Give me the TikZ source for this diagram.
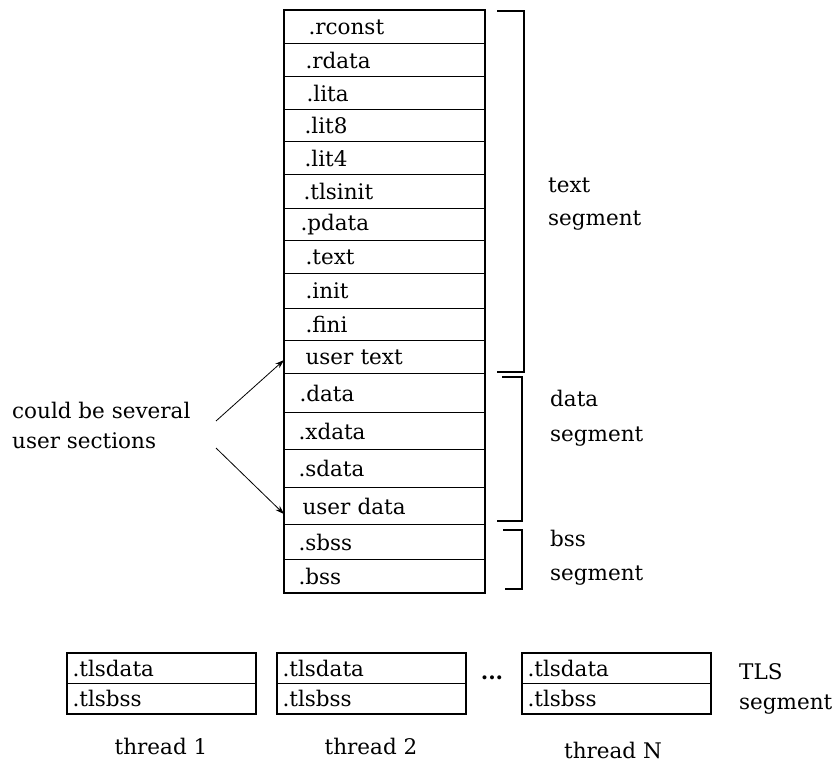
\documentclass[tikz,border=0pt]{standalone}
\usepackage{fontspec}
\setmainfont{DejaVu Serif}
\usetikzlibrary{arrows.meta}
\begin{document}
\begin{tikzpicture}[x=1pt,y=-1pt,
  every node/.style={font=\fontsize{21.5}{24}\selectfont},
  sect/.style={draw, line width=1.1pt, minimum width=200pt, minimum height=#1,
     inner sep=0pt, anchor=north west, text width=200pt, align=left},
  tls/.style={draw, line width=1.1pt, minimum width=188pt, minimum height=#1,
     inner sep=0pt, anchor=north west, text width=188pt, align=left},
  outer/.style={line width=2.6pt},
  brk/.style={line width=1.3pt},
  arr/.style={line width=0.8pt, -{Stealth[length=9pt,width=6pt]}},
  lbl/.style={anchor=west, align=left, inner sep=0pt}
]
\useasboundingbox (0,0) rectangle (837,778);
% main column
\node[sect=33pt] (r1)  at (284,10)  {\hspace*{24pt}.rconst};
\node[sect=33pt] (r2)  at (284,43)  {\hspace*{21pt}.rdata};
\node[sect=33pt] (r3)  at (284,76)  {\hspace*{22pt}.lita};
\node[sect=32pt] (r4)  at (284,109) {\hspace*{20pt}.lit8};
\node[sect=33pt] (r5)  at (284,141) {\hspace*{20pt}.lit4};
\node[sect=34pt] (r6)  at (284,174) {\hspace*{19pt}.tlsinit};
\node[sect=32pt] (r7)  at (284,208) {\hspace*{16pt}.pdata};
\node[sect=33pt] (r8)  at (284,240) {\hspace*{21pt}.text};
\node[sect=35pt] (r9)  at (284,273) {\hspace*{21pt}.init};
\node[sect=32pt] (r10) at (284,308) {\hspace*{21pt}.fini};
\node[sect=33pt] (r11) at (284,340) {\hspace*{21pt}user\ text};
\node[sect=39pt] (r12) at (284,373) {\hspace*{15pt}.data};
\node[sect=37pt] (r13) at (284,412) {\hspace*{14pt}.xdata};
\node[sect=38pt] (r14) at (284,449) {\hspace*{14pt}.sdata};
\node[sect=37pt] (r15) at (284,487) {\hspace*{18pt}user\ data};
\node[sect=35pt] (r16) at (284,524) {\hspace*{14pt}.sbss};
\node[sect=33pt] (r17) at (284,559) {\hspace*{14pt}.bss};
\draw[outer] (r1.north west) rectangle (r17.south east);
% brackets
\draw[brk] (497,11) -- (524,11) -- (524,372) -- (497,372);
\draw[brk] (502,377) -- (522,377) -- (522,521) -- (497,521);
\draw[brk] (503,530) -- (522,530) -- (522,589) -- (505,589);
\node[lbl, font=\fontsize{21.5}{33}\selectfont] (tseg) at (548,204) {text\\segment};
\node[lbl, font=\fontsize{21.5}{35}\selectfont] (dseg) at (550,418) {data\\segment};
\node[lbl, font=\fontsize{21.5}{34}\selectfont] (bseg) at (550,558) {bss\\segment};
% note with arrows
\node[lbl, font=\fontsize{21.5}{30}\selectfont] (note) at (12,425) {could be several\\user sections};
\coordinate (a1) at (216,421);
\coordinate (a2) at (216,448);
\draw[arr] (a1) -- ([yshift=-3pt]r11.west);
\draw[arr] (a2) -- ([yshift=-8pt]r15.west);
% TLS thread boxes
\node[tls=30pt] (t1a) at (67,653)  {\hspace*{5pt}.tlsdata};
\node[tls=30pt] (t1b) at (67,683)  {\hspace*{5pt}.tlsbss};
\draw[outer] (t1a.north west) rectangle (t1b.south east);
\node[tls=30pt] (t2a) at (277,653) {\hspace*{5pt}.tlsdata};
\node[tls=30pt] (t2b) at (277,683) {\hspace*{5pt}.tlsbss};
\draw[outer] (t2a.north west) rectangle (t2b.south east);
\node[tls=30pt] (tna) at (522,653) {\hspace*{5pt}.tlsdata};
\node[tls=30pt] (tnb) at (522,683) {\hspace*{5pt}.tlsbss};
\draw[outer] (tna.north west) rectangle (tnb.south east);
\node[font=\bfseries\fontsize{21.5}{24}\selectfont, inner sep=0pt] (dots) at (492,678) {...};
\node[lbl, font=\fontsize{21.5}{30}\selectfont] (tlsseg) at (739,689) {TLS\\segment};
\node (th1) at (161,746) {thread 1};
\node (th2) at (371,746) {thread 2};
\node (thn) at (613,750) {thread N};
\end{tikzpicture}
\end{document}
